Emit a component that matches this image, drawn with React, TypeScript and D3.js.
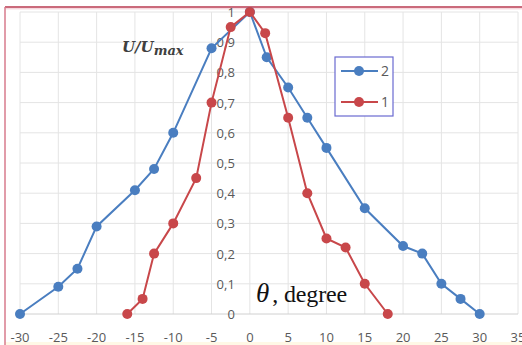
import React from "react";
import * as d3 from "d3";

const series2X = [-30, -25, -22.5, -20, -15, -12.5, -10, -5, 0, 2.2, 5, 7.5, 10, 15, 20, 22.5, 25, 27.5, 30];
const series2Y = [0, 0.09, 0.15, 0.29, 0.41, 0.48, 0.6, 0.88, 1, 0.85, 0.75, 0.65, 0.55, 0.35, 0.225, 0.2, 0.1, 0.05, 0];
const series1X = [-16, -14, -12.5, -10, -7, -5, -2.5, 0, 2, 5, 7.5, 10, 12.5, 15, 18];
const series1Y = [0, 0.05, 0.2, 0.3, 0.45, 0.7, 0.95, 1, 0.93, 0.65, 0.4, 0.25, 0.22, 0.1, 0];
const xTicks = [-30, -25, -20, -15, -10, -5, 0, 5, 10, 15, 20, 25, 30, 35];
const yTicks = [0, 0.1, 0.2, 0.3, 0.4, 0.5, 0.6, 0.7, 0.8, 0.9, 1];
const legendNames = ["2", "1"];

const W = 522;
const H = 345;

export default function App() {
  const x = d3.scaleLinear().domain([-30, 35]).range([20, 518]);
  const y = d3.scaleLinear().domain([0, 1]).range([314, 12]);
  const line = d3
    .line<[number, number]>()
    .x((d) => x(d[0]))
    .y((d) => y(d[1]));
  const d2: [number, number][] = series2X.map((v, i) => [v, series2Y[i]]);
  const d1: [number, number][] = series1X.map((v, i) => [v, series1Y[i]]);
  const blue = "#4a7ec0";
  const red = "#c8474a";
  const tickFont = "'Open Sans', 'Noto Sans', sans-serif";
  const fmt = (v: number) => (v === 0 ? "0" : v === 1 ? "1" : v.toFixed(1).replace(".", ","));
  const series = [
    { name: legendNames[0], data: d2, color: blue },
    { name: legendNames[1], data: d1, color: red },
  ];
  return (
    <svg
      width={W}
      height={H}
      style={{ position: "absolute", left: 0, top: 0, background: "#fff" }}
    >
      <rect x={0} y={0} width={W} height={H} fill="#ffffff" />
      <rect x={5} y={342} width={W} height={H - 342} fill="#fff8e6" />
      {/* outer frame */}
      <line x1={5} x2={W} y1={7} y2={7} stroke="#b8384f" strokeWidth={1.6} />
      <line x1={5} x2={W} y1={8.8} y2={8.8} stroke="#f2c6cf" strokeWidth={1} />
      <line x1={5} x2={5} y1={7} y2={H} stroke="#d77b8c" strokeWidth={1.5} />
      {/* gridlines */}
      {xTicks.map((t) => (
        <line key={"vx" + t} x1={x(t)} x2={x(t)} y1={y(1)} y2={y(0)} stroke="#e4e4e4" strokeWidth={1} />
      ))}
      {yTicks.map((t) => (
        <line key={"hy" + t} x1={x(-30)} x2={x(35)} y1={y(t)} y2={y(t)} stroke={t === 0 ? "#d0d0d0" : "#e4e4e4"} strokeWidth={1} />
      ))}
      {/* tick labels */}
      {xTicks.map((t) => (
        <text key={"xt" + t} x={x(t)} y={342} textAnchor="middle" fontFamily={tickFont} fontSize={13} fill="#595959">
          {t}
        </text>
      ))}
      {yTicks.map((t) => (
        <text key={"yt" + t} x={x(0) - 15} y={y(t) + 5} textAnchor="end" fontFamily={tickFont} fontSize={13} fill="#595959">
          {fmt(t)}
        </text>
      ))}
      {/* series */}
      {series.map((s) => (
        <g key={"s" + s.name}>
          <path d={line(s.data) || ""} fill="none" stroke={s.color} strokeWidth={2} />
          {s.data.map((p, i) => (
            <circle key={i} cx={x(p[0])} cy={y(p[1])} r={5} fill={s.color} />
          ))}
        </g>
      ))}
      {/* axis titles */}
      <text x={122} y={52} fontFamily="'DejaVu Serif', serif" fontStyle="italic" fontWeight="bold" fontSize={15} fill="#404040">
        U/U
        <tspan fontSize={13} dy={3}>max</tspan>
      </text>
      <text x={256} y={302} fontFamily="'Liberation Serif', 'Times New Roman', serif" fill="#111">
        <tspan fontStyle="italic" fontSize={27}>θ</tspan>
        <tspan fontSize={24} dx={3} textLength={75} lengthAdjust="spacing">, degree</tspan>
      </text>
      {/* legend */}
      <rect x={335} y={57} width={58} height={59} fill="#fff" stroke="#6a6ad0" strokeWidth={1.2} />
      {series.map((s, i) => {
        const ly = 71 + i * 31;
        return (
          <g key={"lg" + s.name}>
            <line x1={341} x2={378} y1={ly} y2={ly} stroke={s.color} strokeWidth={2} />
            <circle cx={359} cy={ly} r={5} fill={s.color} />
            <text x={381} y={ly + 5} fontFamily={tickFont} fontSize={14} fill="#595959">
              {s.name}
            </text>
          </g>
        );
      })}
    </svg>
  );
}
